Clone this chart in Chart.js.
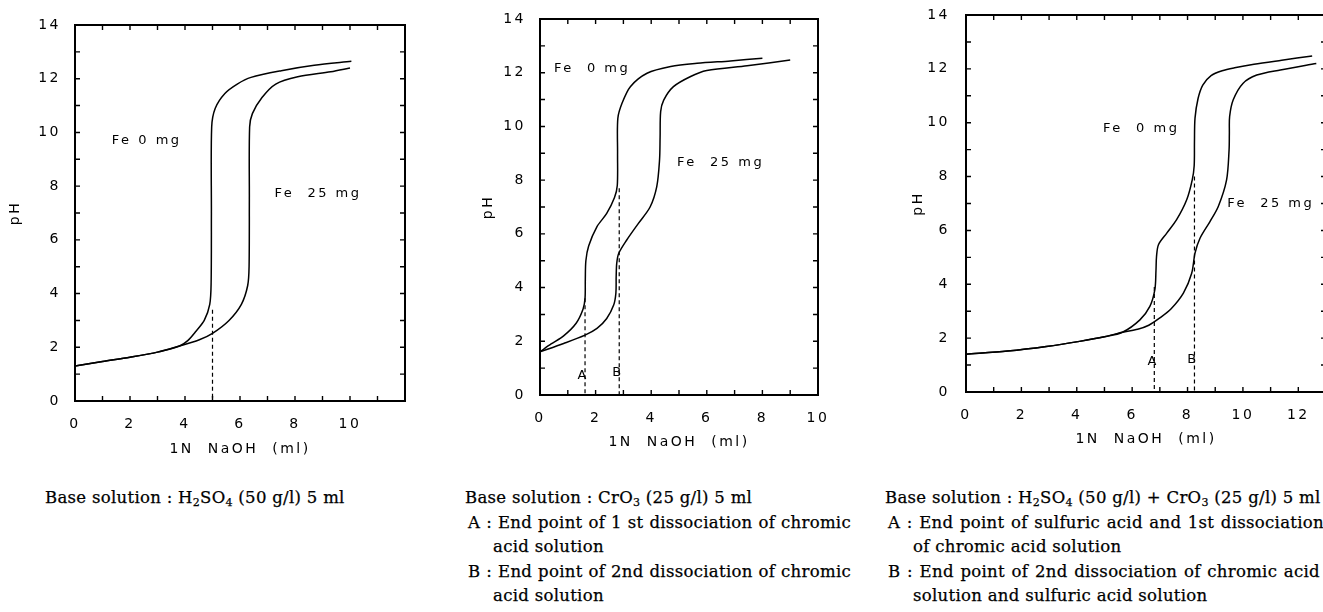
<!DOCTYPE html>
<html>
<head>
<meta charset="utf-8">
<script src="https://cdn.jsdelivr.net/npm/chart.js@4.4.1/dist/chart.umd.min.js"></script>
<style>
  html, body { margin: 0; padding: 0; background: #fff; }
  body { width: 1323px; height: 612px; overflow: hidden; position: relative; }
  canvas { position: absolute; top: 0; }
  .cap { position: absolute; font-family: "DejaVu Serif", serif; font-size: 16.5px; letter-spacing: 0.3px;
         color: #000; line-height: 24.5px; -webkit-text-stroke: 0.25px #000; }
  .cap div { white-space: nowrap; }
  .cap .j { text-align: justify; text-align-last: justify; white-space: normal; }
  .cap .ind { padding-left: 25px; }
  sub { font-size: 11px; vertical-align: -3px; line-height: 0; }
</style>
</head>
<body>
<canvas id="c1" width="420" height="470" style="left:0px"></canvas>
<canvas id="c2" width="400" height="470" style="left:460px"></canvas>
<canvas id="c3" width="440" height="470" style="left:890px"></canvas>

<div class="cap" style="left:45px; top:486px;">
  <div>Base solution : H<sub>2</sub>SO<sub>4</sub> (50 g/l) 5 ml</div>
</div>
<div class="cap" style="left:465px; top:486px;">
  <div>Base solution : CrO<sub>3</sub> (25 g/l) 5 ml</div>
  <div class="j" style="width:383px; margin-left:3px;">A : End point of 1 st dissociation of chromic</div>
  <div class="ind" style="margin-left:3px;">acid solution</div>
  <div class="j" style="width:383px; margin-left:3px;">B : End point of 2nd dissociation of chromic</div>
  <div class="ind" style="margin-left:3px;">acid solution</div>
</div>
<div class="cap" style="left:885px; top:486px;">
  <div>Base solution : H<sub>2</sub>SO<sub>4</sub> (50 g/l) + CrO<sub>3</sub> (25 g/l) 5 ml</div>
  <div class="j" style="width:436px; margin-left:3px;">A : End point of sulfuric acid and 1st dissociation</div>
  <div class="ind" style="margin-left:3px;">of chromic acid solution</div>
  <div class="j" style="width:432px; margin-left:3px;">B : End point of 2nd dissociation of chromic acid</div>
  <div class="ind" style="margin-left:3px;">solution and sulfuric acid solution</div>
</div>

<script>
// panel 1 : H2SO4
const p1Fe0X = [0, 1, 2, 3, 3.8, 4.1, 4.4, 4.7, 4.9, 4.95, 4.96, 4.97, 5.1, 5.45, 5.9, 6.4, 7.5, 8.7, 10.05];
const p1Fe0Y = [1.3, 1.47, 1.63, 1.82, 2.05, 2.25, 2.6, 3.0, 3.6, 4.4, 7.0, 10.2, 10.9, 11.45, 11.8, 12.05, 12.3, 12.5, 12.65];
const p1Fe25X = [0, 1, 2, 3, 3.8, 4.5, 5.0, 5.6, 6.05, 6.28, 6.33, 6.34, 6.35, 6.45, 6.8, 7.3, 8.1, 9.3, 10.0];
const p1Fe25Y = [1.3, 1.47, 1.63, 1.82, 2.05, 2.27, 2.52, 3.0, 3.6, 4.3, 5.0, 7.5, 10.2, 10.7, 11.3, 11.8, 12.07, 12.26, 12.4];
const p1EndX = [5.0];
const p1EndTop = [3.4];

// panel 2 : CrO3
const p2Fe0X = [0, 0.4, 0.85, 1.3, 1.55, 1.62, 1.63, 1.65, 1.75, 2.05, 2.4, 2.68, 2.78, 2.79, 2.8, 2.95, 3.25, 3.85, 4.7, 5.65, 6.85, 8.0];
const p2Fe0Y = [1.61, 1.9, 2.2, 2.67, 3.2, 3.6, 4.3, 5.0, 5.55, 6.27, 6.76, 7.35, 7.8, 9.0, 10.3, 10.86, 11.48, 11.98, 12.23, 12.35, 12.44, 12.54];
const p2Fe25X = [0, 0.85, 1.62, 2.05, 2.4, 2.65, 2.73, 2.74, 2.76, 2.83, 3.12, 3.54, 3.96, 4.2, 4.3, 4.32, 4.34, 4.45, 4.8, 5.4, 6.0, 7.45, 9.0];
const p2Fe25Y = [1.61, 1.92, 2.23, 2.48, 2.85, 3.35, 3.8, 4.4, 4.9, 5.27, 5.77, 6.39, 7.0, 7.76, 8.75, 9.6, 10.55, 10.98, 11.48, 11.85, 12.08, 12.26, 12.47];
const p2EndX = [1.62, 2.85];
const p2EndTop = [3.6, 7.7];

// panel 3 : H2SO4 + CrO3
const p3Fe0X = [0, 1.5, 2.9, 4.1, 5.0, 5.65, 6.28, 6.64, 6.82, 6.86, 6.88, 6.95, 7.25, 7.6, 7.97, 8.17, 8.24, 8.25, 8.27, 8.38, 8.55, 8.85, 9.25, 9.7, 10.4, 11.4, 12.5];
const p3Fe0Y = [1.4, 1.52, 1.69, 1.88, 2.05, 2.22, 2.68, 3.18, 3.8, 4.5, 5.03, 5.47, 5.9, 6.39, 7.14, 7.88, 8.4, 9.3, 10.17, 10.9, 11.4, 11.75, 11.93, 12.04, 12.17, 12.32, 12.48];
const p3Fe25X = [0, 1.5, 2.9, 4.1, 5.0, 5.65, 6.2, 6.6, 7.0, 7.4, 7.85, 8.15, 8.27, 8.45, 8.81, 9.11, 9.41, 9.5, 9.51, 9.52, 9.65, 10.0, 10.5, 11.35, 12.65];
const p3Fe25Y = [1.4, 1.52, 1.69, 1.88, 2.05, 2.22, 2.33, 2.48, 2.75, 3.08, 3.67, 4.41, 5.16, 5.71, 6.33, 6.89, 7.88, 8.99, 9.6, 10.23, 10.85, 11.46, 11.77, 11.96, 12.2];
const p3EndX = [6.8, 8.25];
const p3EndTop = [3.9, 8.0];

// texts inside the plots
const p1Texts = [{ t: 'Fe 0 mg', x: 1.34, y: 9.7 }, { t: 'Fe  25 mg', x: 7.25, y: 7.73 }];
const p2Texts = [{ t: 'Fe  0 mg', x: 0.5, y: 12.17 }, { t: 'Fe  25 mg', x: 4.93, y: 8.67 },
                 { t: 'A', x: 1.55, y: 0.74, c: true }, { t: 'B', x: 2.8, y: 0.82, c: true }];
const p3Texts = [{ t: 'Fe  0 mg', x: 4.95, y: 9.77 }, { t: 'Fe  25 mg', x: 9.43, y: 6.98 },
                 { t: 'A', x: 6.76, y: 1.11, c: true }, { t: 'B', x: 8.2, y: 1.19, c: true }];

const pts = (xs, ys) => xs.map((v, i) => ({ x: v, y: ys[i] }));

const curve = (xs, ys) => ({
  data: pts(xs, ys), showLine: true, borderColor: '#000', borderWidth: 1.5,
  pointRadius: 0, tension: 0.3, fill: false
});
const dashed = (x, top) => ({
  data: [{ x: x, y: top }, { x: x, y: 0 }], showLine: true, borderColor: '#000',
  borderWidth: 1.2, borderDash: [4, 3], pointRadius: 0, tension: 0
});

const framePlugin = {
  id: 'frame',
  beforeDraw(chart) {
    chart.ctx.letterSpacing = '2.5px';
  },
  afterDatasetsDraw(chart, args, opts) {
    const { ctx, chartArea: a, scales } = chart;
    const x = scales.x, y = scales.y;
    ctx.save();
    ctx.strokeStyle = '#000';
    ctx.lineWidth = 2;
    ctx.strokeRect(a.left, a.top, a.right - a.left, a.bottom - a.top);
    ctx.lineWidth = 1.4;
    ctx.beginPath();
    for (let v = Math.ceil(x.min); v < x.max; v++) {
      const px = x.getPixelForValue(v);
      ctx.moveTo(px, a.bottom); ctx.lineTo(px, a.bottom - 5);
      ctx.moveTo(px, a.top); ctx.lineTo(px, a.top + 5);
    }
    for (let v = Math.ceil(y.min); v < y.max; v++) {
      const py = y.getPixelForValue(v);
      ctx.moveTo(a.left, py); ctx.lineTo(a.left + 5, py);
      ctx.moveTo(a.right, py); ctx.lineTo(a.right - 5, py);
    }
    ctx.stroke();
    ctx.fillStyle = '#000';
    ctx.font = '13px "DejaVu Sans"';
    ctx.textBaseline = 'middle';
    opts.texts.forEach(l => {
      ctx.textAlign = l.c ? 'center' : 'left';
      ctx.fillText(l.t, x.getPixelForValue(l.x), y.getPixelForValue(l.y));
    });
    ctx.restore();
  },
  afterDraw(chart) {
    chart.ctx.letterSpacing = '0px';
  }
};

const makePanel = (id, sets, texts, xMax, xLabelMax, pad, yW, xH, yPad) => {
  const ctx = document.getElementById(id).getContext('2d');
  new Chart(ctx, {
    type: 'scatter',
    data: { datasets: sets },
    options: {
      responsive: false,
      animation: false,
      layout: { padding: pad },
      plugins: { legend: { display: false }, tooltip: { enabled: false }, frame: { texts: texts } },
      scales: {
        x: {
          type: 'linear', min: 0, max: xMax,
          grid: { display: false }, border: { display: false },
          ticks: {
            stepSize: 2, padding: 7, color: '#000',
            font: { family: 'DejaVu Sans', size: 14 },
            callback: v => (v <= xLabelMax ? v : '')
          },
          title: { display: true, text: '1N  NaOH  (ml)', color: '#000', font: { family: 'DejaVu Sans', size: 14 }, padding: 4 },
          afterFit: s => { s.height = xH; s.paddingLeft = 0; s.paddingRight = 0; }
        },
        y: {
          type: 'linear', min: 0, max: 14,
          grid: { display: false }, border: { display: false },
          ticks: { stepSize: 2, padding: yPad, color: '#000', font: { family: 'DejaVu Sans', size: 14 } },
          title: { display: true, text: 'pH', color: '#000', font: { family: 'DejaVu Sans', size: 14 }, padding: 4 },
          afterFit: s => { s.width = yW; s.paddingTop = 0; s.paddingBottom = 0; }
        }
      }
    },
    plugins: [framePlugin]
  });
};

makePanel('c1',
  [curve(p1Fe0X, p1Fe0Y), curve(p1Fe25X, p1Fe25Y), ...p1EndX.map((v, i) => dashed(v, p1EndTop[i]))],
  p1Texts, 12, 10, { left: 3, top: 25, right: 15, bottom: 8 }, 72, 61, 6);

makePanel('c2',
  [curve(p2Fe0X, p2Fe0Y), curve(p2Fe25X, p2Fe25Y), ...p2EndX.map((v, i) => dashed(v, p2EndTop[i]))],
  p2Texts, 10, 10, { left: 16, top: 19, right: 42, bottom: 15 }, 64, 60, 6);

makePanel('c3',
  [curve(p3Fe0X, p3Fe0Y), curve(p3Fe25X, p3Fe25Y), ...p3EndX.map((v, i) => dashed(v, p3EndTop[i]))],
  p3Texts, 13, 12, { left: 16, top: 15, right: 4, bottom: 18 }, 60, 60, 8);
</script>
</body>
</html>
